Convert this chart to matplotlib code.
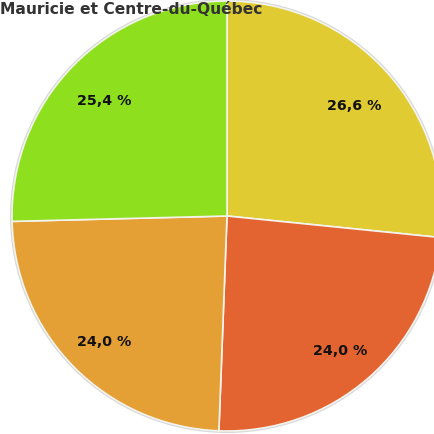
import matplotlib
matplotlib.use("Agg")
import matplotlib.pyplot as plt

# parts de la région, dans le sens horaire depuis midi
parts = [26.6, 24.0, 24.0, 25.4]
couleurs = ["#e1cb33", "#e46431", "#e4a035", "#8ee01e"]
titre = "Mauricie et Centre-du-Québec"

fig = plt.figure(figsize=(4.34, 4.35), dpi=100)
ax = fig.add_axes([0, 0, 1, 1])

# centre du camembert vers (227, 217) px, rayon 215 px
r_px = 215.0

# léger contour gris autour du disque
ax.add_patch(plt.Circle((0, 0), 1.006, color="#d8d8d8", zorder=0))

wedges, textes = ax.pie(
    parts,
    colors=couleurs,
    startangle=90,
    counterclock=False,
    radius=1.0,
    labels=[f"{p:.1f} %".replace(".", ",") for p in parts],
    labeldistance=0.8,
    wedgeprops=dict(edgecolor="#f4f4ee", linewidth=1.2),
    textprops=dict(fontsize=10.3, fontweight="bold", color="#111111",
                   ha="center", va="center"),
    frame=True,
)
ax.set_xlim(-227 / r_px, (434 - 227) / r_px)
ax.set_ylim(-(435 - 217) / r_px, 217 / r_px)
ax.set_aspect("auto")
ax.axis("off")
for t in textes:
    t.set_horizontalalignment("center")
    t.set_y(t.get_position()[1] - 4 / r_px)

fig.text(0.0, 1 - 10 / 435, titre, fontsize=11.2, fontweight="bold",
         color="#333333", ha="left", va="center")

fig.savefig("out.png", dpi=100)
